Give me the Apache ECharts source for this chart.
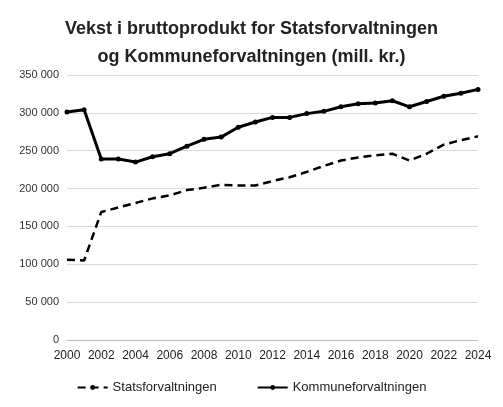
<!DOCTYPE html>
<html><head><meta charset="utf-8">
<script src="https://cdn.jsdelivr.net/npm/echarts@6/dist/echarts.min.js"></script>
<style>html,body{margin:0;padding:0;background:#fff}#c{width:503px;height:407px}</style>
</head><body><div id="c"></div>
<script>
const years = ['2000','2001','2002','2003','2004','2005','2006','2007','2008','2009','2010','2011','2012','2013','2014','2015','2016','2017','2018','2019','2020','2021','2022','2023','2024'];
const stats = [106000,105000,169000,175000,181000,187000,191000,198000,201000,205000,204000,204000,210000,215000,222000,230000,237000,241000,244000,246000,237000,246000,258000,264000,269000];
const kommune = [301000,304000,239000,239000,235000,242000,246000,256000,265000,268000,281000,288000,294000,294000,299000,302000,308000,312000,313000,316000,308000,315000,322000,326000,331000];
const chart = echarts.init(document.getElementById('c'));
const font = 'Liberation Sans';
chart.setOption({
  animation:false,
  title:{text:'Vekst i bruttoprodukt for Statsforvaltningen\nog Kommuneforvaltningen (mill. kr.)',left:'center',top:10,
    textStyle:{fontFamily:font,fontSize:18,fontWeight:'bold',color:'#222',lineHeight:28}},
  legend:{bottom:8,left:'center',itemGap:40,itemWidth:30,itemHeight:6,textStyle:{fontFamily:font,fontSize:13,color:'#222'},
    data:['Statsforvaltningen','Kommuneforvaltningen']},
  grid:{left:67,right:25,top:75,bottom:67},
  xAxis:{type:'category',data:years,boundaryGap:false,
    axisLine:{lineStyle:{color:'#bbb'}},axisTick:{show:false},
    axisLabel:{interval:1,fontFamily:font,fontSize:12,color:'#222',margin:10}},
  yAxis:{type:'value',min:0,max:350000,interval:50000,
    axisLabel:{fontFamily:font,fontSize:11,color:'#333',formatter:v=>v===0?'0':String(v).replace(/\B(?=(\d{3})+(?!\d))/g,' ')},
    splitLine:{lineStyle:{color:'#d9d9d9'}},axisLine:{show:false},axisTick:{show:false}},
  series:[
    {name:'Statsforvaltningen',type:'line',data:stats,symbol:'none',
      lineStyle:{color:'#000',width:2.5,type:[8,5]},itemStyle:{color:'#000'}},
    {name:'Kommuneforvaltningen',type:'line',data:kommune,symbol:'circle',symbolSize:5,
      lineStyle:{color:'#000',width:3},itemStyle:{color:'#000'}}
  ]
});
</script></body></html>
